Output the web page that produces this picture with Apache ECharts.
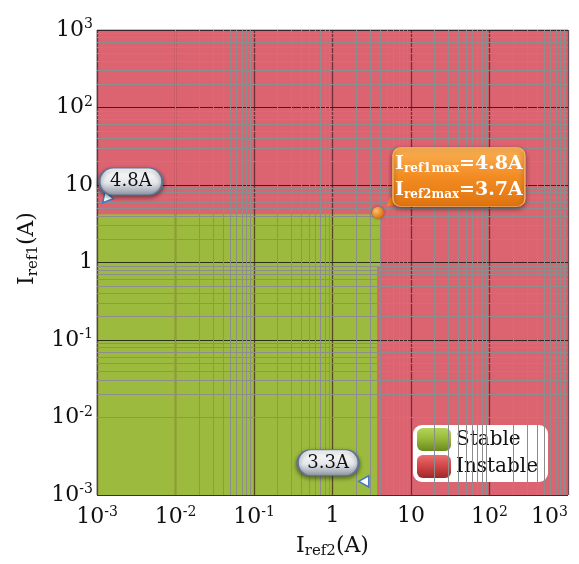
<!DOCTYPE html>
<html>
<head>
<meta charset="utf-8">
<script src="https://cdn.jsdelivr.net/npm/echarts@6/dist/echarts.min.js"></script>
<style>
  html, body { margin: 0; padding: 0; background: #fff; }
  #chart { width: 579px; height: 564px; }
</style>
</head>
<body>
<div id="chart"></div>
<script>
// axis range (A), same on both axes
const axisMin = 0.001;
const axisMax = 1000;
// tick labels for 10^-3 ... 10^3
const tickLabels = ['10{s|-3}', '10{s|-2}', '10{s|-1}', '1', '10', '10{s|2}', '10{s|3}'];

// stable region: [iref2 max, iref1 low, iref1 high]
const stableIref2Max = [3.7, 4.1];
const stableIref1Low = [0.001, 0.9];
const stableIref1High = [0.9, 4.2];

// operating limit point
const maxPoint = [3.8, 4.4];
const iref1MaxText = '4.8A';
const iref2MaxText = '3.7A';
const leftNoteText = '4.8A';
const bottomNoteText = '3.3A';

const serif = '"DejaVu Serif", "Liberation Serif", serif';

// minor grid lines at 2..9 x 10^k
const minorVals = [];
for (let k = -3; k < 3; k++) {
  for (let m = 2; m <= 9; m++) minorVals.push(m * Math.pow(10, k));
}

function tickFmt(v) {
  const i = Math.round(Math.log10(v)) + 3;
  return tickLabels[i] || '';
}

const chart = echarts.init(document.getElementById('chart'));

const pillPath = 'path://M14,0 H50 A14,14 0 0 1 50,28 H14 A14,14 0 0 1 14,0 Z';
const boxPath = 'path://M8,0 H124 A8,8 0 0 1 132,8 V51 A8,8 0 0 1 124,59 H8 A8,8 0 0 1 0,51 V8 A8,8 0 0 1 8,0 Z';
const silver = new echarts.graphic.LinearGradient(0, 0, 0, 1, [
  { offset: 0, color: '#ffffff' },
  { offset: 0.55, color: '#e4e6ea' },
  { offset: 1, color: '#8c93a0' }
]);
const orange = new echarts.graphic.LinearGradient(0, 0, 0, 1, [
  { offset: 0, color: '#fbb257' },
  { offset: 0.5, color: '#f28b22' },
  { offset: 1, color: '#e07410' }
]);
const greenIcon = new echarts.graphic.LinearGradient(0, 0, 0, 1, [
  { offset: 0, color: '#b4d45a' },
  { offset: 0.45, color: '#98bb3a' },
  { offset: 1, color: '#6a8a1e' }
]);
const redIcon = new echarts.graphic.LinearGradient(0, 0, 0, 1, [
  { offset: 0, color: '#ec7070' },
  { offset: 0.45, color: '#d44848' },
  { offset: 1, color: '#a02828' }
]);

const bubbleStyle = {
  color: silver,
  borderColor: '#5d7397',
  borderWidth: 1.5,
  shadowBlur: 4,
  shadowColor: 'rgba(0,0,0,0.45)',
  shadowOffsetY: 2
};
const pointerStyle = { color: '#ffffff', borderColor: '#3f78c4', borderWidth: 1.5 };
const labelRich = { s: { fontFamily: serif, fontSize: 14, color: '#111', padding: [0, 0, 11, 0] } };
const nameRich = { s: { fontFamily: serif, fontSize: 15, color: '#111', padding: [11, 0, 0, 0] } };

const option = {
  animation: false,
  backgroundColor: '#fff',
  grid: {
    left: 97, right: 11, top: 30, bottom: 64,
    show: true, borderColor: '#8a8a8a', borderWidth: 1, backgroundColor: 'transparent'
  },
  legend: {
    data: ['Stable', 'Instable'],
    orient: 'vertical',
    left: 413, top: 425,
    backgroundColor: '#ffffff',
    borderRadius: 9,
    padding: [3, 10, 4, 4],
    itemGap: 4,
    itemWidth: 34, itemHeight: 23,
    icon: 'roundRect',
    textStyle: { fontFamily: serif, fontSize: 20, color: '#111' }
  },
  xAxis: {
    type: 'log', logBase: 10, min: axisMin, max: axisMax, interval: 1,
    z: 3,
    name: 'I{s|ref2}(A)',
    nameLocation: 'middle', nameGap: 38,
    nameTextStyle: { fontFamily: serif, fontSize: 22, color: '#111', rich: nameRich },
    axisLine: { show: false },
    axisTick: { show: false },
    axisLabel: {
      margin: 10, alignMaxLabel: 'right', formatter: tickFmt,
      fontFamily: serif, fontSize: 22, color: '#111',
      rich: labelRich
    },
    splitLine: { show: true, lineStyle: { color: 'rgba(60,25,30,0.7)', width: 1.3 } }
  },
  yAxis: {
    type: 'log', logBase: 10, min: axisMin, max: axisMax, interval: 1,
    z: 3,
    name: 'I{s|ref1}(A)',
    nameLocation: 'middle', nameGap: 56,
    nameTextStyle: { fontFamily: serif, fontSize: 22, color: '#111', padding: [0, 0, 0, 28], rich: nameRich },
    axisLine: { show: false },
    axisTick: { show: false },
    axisLabel: {
      margin: 4, formatter: tickFmt,
      fontFamily: serif, fontSize: 22, color: '#111',
      rich: labelRich
    },
    splitLine: { show: true, lineStyle: { color: 'rgba(25,25,25,0.85)', width: 1.2 } }
  },
  series: [
    {
      name: 'Instable', type: 'line', data: [], z: 1,
      itemStyle: { color: redIcon },
      markArea: {
        silent: true,
        itemStyle: { color: '#dc6470' },
        data: [[{ coord: [axisMin, axisMin] }, { coord: [axisMax, axisMax] }]]
      }
    },
    {
      name: 'Stable', type: 'line', data: [], z: 1,
      itemStyle: { color: greenIcon },
      markArea: {
        silent: true,
        itemStyle: { color: '#9cba3d' },
        data: stableIref2Max.map((x, i) => [
          { coord: [axisMin, stableIref1Low[i]] },
          { coord: [x, stableIref1High[i]] }
        ])
      }
    },
    {
      name: 'minor', type: 'line', data: [], z: 2,
      markLine: {
        silent: true, symbol: 'none', animation: false,
        label: { show: false },
        lineStyle: { color: '#8d8d8d', width: 1, type: 'solid' },
        data: minorVals.map(v => ({ xAxis: v })).concat(minorVals.map(v => ({ yAxis: v })))
      }
    },
    {
      name: 'notes', type: 'line', data: [], z: 5,
      markPoint: {
        silent: true, animation: false,
        data: [
          // left bubble
          { coord: [0.0013, 6.6], symbol: 'triangle', symbolSize: [11, 10], symbolRotate: 140, itemStyle: pointerStyle, label: { show: false } },
          { coord: [0.0027, 11.1], symbol: pillPath, symbolSize: [63, 27], itemStyle: bubbleStyle,
            label: { show: true, position: 'inside', formatter: leftNoteText, fontFamily: serif, fontSize: 18, color: '#111' } },
          // bottom bubble
          { coord: [2.5, 0.0015], symbol: 'triangle', symbolSize: [11, 10], symbolRotate: 90, itemStyle: pointerStyle, label: { show: false } },
          { coord: [0.88, 0.0026], symbol: pillPath, symbolSize: [61, 26], itemStyle: bubbleStyle,
            label: { show: true, position: 'inside', formatter: bottomNoteText, fontFamily: serif, fontSize: 18, color: '#111' } },
          // max point callout
          { coord: [5.4, 5.8], symbol: 'triangle', symbolSize: [10, 9], symbolRotate: 130, itemStyle: { color: '#f08a24' }, label: { show: false } },
          { coord: [40.8, 12.7], symbol: boxPath, symbolSize: [132, 59],
            itemStyle: { color: orange, borderColor: '#f7b060', borderWidth: 1, shadowBlur: 5, shadowColor: 'rgba(0,0,0,0.45)', shadowOffsetY: 2 },
            label: {
              show: true, position: 'inside',
              formatter: '{b|I}{s|ref1max}{b|=' + iref1MaxText + '}\n{b|I}{s|ref2max}{b|=' + iref2MaxText + '}',
              rich: {
                b: { fontFamily: serif, fontSize: 19, fontWeight: 'bold', color: '#fff', lineHeight: 26 },
                s: { fontFamily: serif, fontSize: 12, fontWeight: 'bold', color: '#fff', lineHeight: 26, padding: [10, 0, 0, 0] }
              }
            } },
          { coord: maxPoint, symbol: 'circle', symbolSize: 12,
            itemStyle: { color: new echarts.graphic.RadialGradient(0.35, 0.35, 0.7, [
              { offset: 0, color: '#ffc070' }, { offset: 1, color: '#d86a08' }]), shadowBlur: 3, shadowColor: 'rgba(0,0,0,0.4)' },
            label: { show: false } }
        ]
      }
    }
  ]
};

chart.setOption(option);
</script>
</body>
</html>
